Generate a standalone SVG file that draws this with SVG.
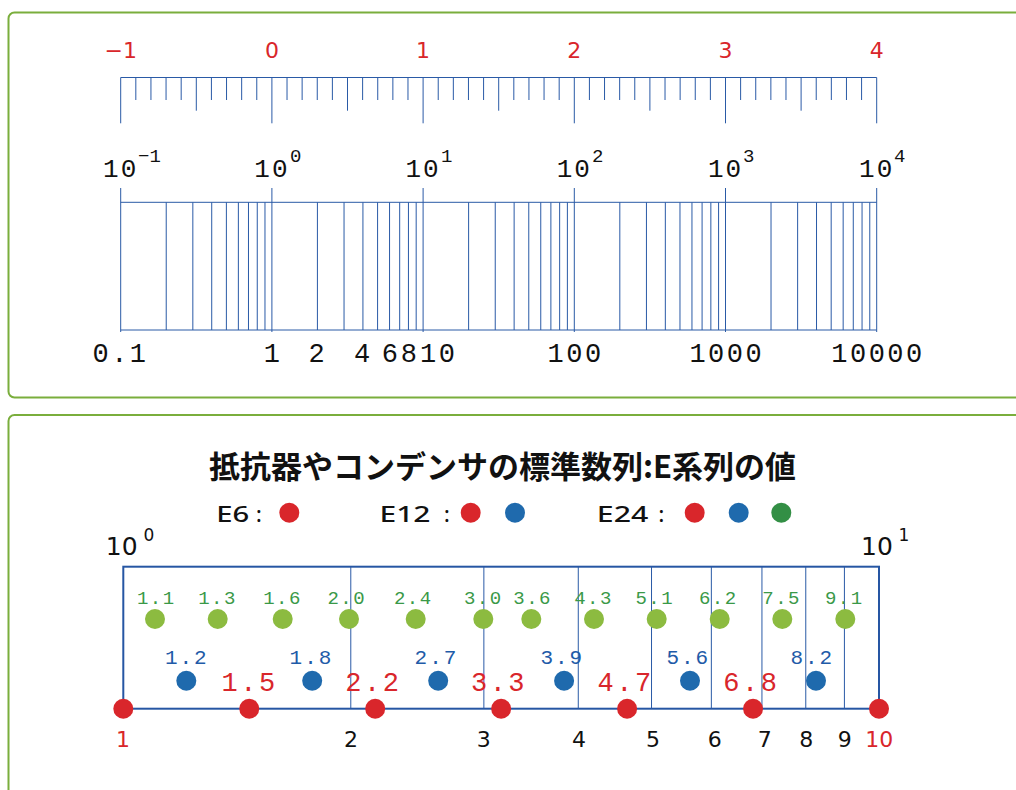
<svg xmlns="http://www.w3.org/2000/svg" width="1016" height="790" viewBox="0 0 1016 790">
<style>
.panel{fill:#fff;stroke:#7aae3c;stroke-width:2}
.bl{stroke:#2a5aa6;stroke-width:1;fill:none}
.red{fill:#d9262b}
.blu{fill:#1f6aad}
.grn{fill:#8cbb40}
.dgrn{fill:#338f45}
.sans{font-family:"DejaVu Sans",sans-serif}
.mono{font-family:"Liberation Mono",monospace}
.rt{font-family:"DejaVu Sans",sans-serif;font-size:22px;fill:#d9262b;text-anchor:middle}
.exp{font-family:"Liberation Mono",monospace;font-size:26px;fill:#111;text-anchor:middle;letter-spacing:2px}
.sup{font-family:"Liberation Mono",monospace;font-size:19px;fill:#111}
.lab{font-family:"Liberation Mono",monospace;font-size:27px;fill:#111;text-anchor:middle;letter-spacing:2.5px}
.gl{font-family:"Liberation Mono",monospace;font-size:19px;fill:#3a9948;text-anchor:middle;letter-spacing:1.5px}
.blt{font-family:"Liberation Mono",monospace;font-size:21px;fill:#1f5ba8;text-anchor:middle;letter-spacing:2px}
.rlt{font-family:"Liberation Mono",monospace;font-size:27px;fill:#d9262b;text-anchor:middle;letter-spacing:2.5px}
.ax{font-family:"DejaVu Sans",sans-serif;font-size:22px;fill:#111;text-anchor:middle}
.leg{font-family:"Noto Sans","Noto Sans CJK JP",sans-serif;font-size:21px;font-weight:500;fill:#111}
</style>
<g id="panel-top">
<rect class="panel" x="8.5" y="12.5" width="1030" height="385" rx="6"/>
<g id="ruler-linear">
<path class="bl" d="M120.7 77.5H876.7"/>
<path class="bl" d="M135.82 77.5V100M150.94 77.5V100M166.06 77.5V100M181.18 77.5V100M211.42 77.5V100M226.54 77.5V100M241.66 77.5V100M256.78 77.5V100M287.02 77.5V100M302.14 77.5V100M317.26 77.5V100M332.38 77.5V100M362.62 77.5V100M377.74 77.5V100M392.86 77.5V100M407.98 77.5V100M438.22 77.5V100M453.34 77.5V100M468.46 77.5V100M483.58 77.5V100M513.82 77.5V100M528.94 77.5V100M544.06 77.5V100M559.18 77.5V100M589.42 77.5V100M604.54 77.5V100M619.66 77.5V100M634.78 77.5V100M665.02 77.5V100M680.14 77.5V100M695.26 77.5V100M710.38 77.5V100M740.62 77.5V100M755.74 77.5V100M770.86 77.5V100M785.98 77.5V100M816.22 77.5V100M831.34 77.5V100M846.46 77.5V100M861.58 77.5V100"/>
<path class="bl" d="M196.3 77.5V110.7M347.5 77.5V110.7M498.7 77.5V110.7M649.9 77.5V110.7M801.1 77.5V110.7"/>
<path class="bl" d="M120.7 77.5V123.3M271.9 77.5V123.3M423.1 77.5V123.3M574.3 77.5V123.3M725.5 77.5V123.3M876.7 77.5V123.3"/>
<text class="rt" x="120.7" y="58">−1</text>
<text class="rt" x="271.9" y="58">0</text>
<text class="rt" x="423.1" y="58">1</text>
<text class="rt" x="574.3" y="58">2</text>
<text class="rt" x="725.5" y="58">3</text>
<text class="rt" x="876.7" y="58">4</text>
</g>
<g id="exponents">
<text class="exp" x="120.7" y="176.7">10</text><text class="sup" x="138" y="162">−1</text>
<text class="exp" x="271.9" y="176.7">10</text><text class="sup" x="290" y="162">0</text>
<text class="exp" x="423.1" y="176.7">10</text><text class="sup" x="441" y="162">1</text>
<text class="exp" x="574.3" y="176.7">10</text><text class="sup" x="592" y="162">2</text>
<text class="exp" x="725.5" y="176.7">10</text><text class="sup" x="743" y="162">3</text>
<text class="exp" x="876.7" y="176.7">10</text><text class="sup" x="894" y="162">4</text>
</g>
<g id="ruler-log">
<path class="bl" d="M120.7 202.3H876.7M120.7 330H876.7"/>
<path class="bl" d="M120.7 188V332M271.9 188V332M423.1 188V332M574.3 188V332M725.5 188V332M876.7 188V332"/>
<path class="bl" d="M166.22 202.3V330M192.84 202.3V330M211.73 202.3V330M226.38 202.3V330M238.36 202.3V330M248.48 202.3V330M257.25 202.3V330M264.98 202.3V330M317.42 202.3V330M344.04 202.3V330M362.93 202.3V330M377.58 202.3V330M389.56 202.3V330M399.68 202.3V330M408.45 202.3V330M416.18 202.3V330M468.62 202.3V330M495.24 202.3V330M514.13 202.3V330M528.78 202.3V330M540.76 202.3V330M550.88 202.3V330M559.65 202.3V330M567.38 202.3V330M619.82 202.3V330M646.44 202.3V330M665.33 202.3V330M679.98 202.3V330M691.96 202.3V330M702.08 202.3V330M710.85 202.3V330M718.58 202.3V330M771.02 202.3V330M797.64 202.3V330M816.53 202.3V330M831.18 202.3V330M843.16 202.3V330M853.28 202.3V330M862.05 202.3V330M869.78 202.3V330"/>
<text class="lab" x="120.5" y="361.7">0.1</text>
<text class="lab" x="273.2" y="361.7">1</text>
<text class="lab" x="317.8" y="361.7">2</text>
<text class="lab" x="363.3" y="361.7">4</text>
<text class="lab" x="391" y="361.7">6</text>
<text class="lab" x="410" y="361.7">8</text>
<text class="lab" x="438.8" y="361.7">10</text>
<text class="lab" x="575.6" y="361.7">100</text>
<text class="lab" x="726.8" y="361.7">1000</text>
<text class="lab" x="878" y="361.7">10000</text>
</g>
</g>
<g id="panel-bottom">
<rect class="panel" x="8.5" y="415" width="1030" height="400" rx="6"/>
<text x="502.5" y="478" style="font-family:'Noto Sans CJK JP',sans-serif;font-size:31px;font-weight:bold;fill:#111;text-anchor:middle">抵抗器やコンデンサの標準数列:E系列の値</text>
<g id="legend">
<text class="leg" x="216.2" y="521.7" textLength="33" lengthAdjust="spacingAndGlyphs">E6</text>
<text class="leg" x="256" y="521.7">:</text>
<circle class="red" cx="289.3" cy="512.7" r="10"/>
<text class="leg" x="379.5" y="521.7" textLength="51" lengthAdjust="spacingAndGlyphs">E12</text>
<text class="leg" x="444" y="521.7">:</text>
<circle class="red" cx="470.7" cy="512.7" r="10"/>
<circle class="blu" cx="515" cy="512.7" r="10"/>
<text class="leg" x="596.8" y="521.7" textLength="51.5" lengthAdjust="spacingAndGlyphs">E24</text>
<text class="leg" x="658.5" y="521.7">:</text>
<circle class="red" cx="694.7" cy="512.7" r="10"/>
<circle class="blu" cx="738.7" cy="512.7" r="10"/>
<circle class="dgrn" cx="781.3" cy="512.7" r="10"/>
</g>
<g id="chart">
<text x="121.7" y="555" class="sans" style="font-size:25px;fill:#111;text-anchor:middle">10</text>
<text x="143.5" y="540.7" class="sans" style="font-size:17px;fill:#111">0</text>
<text x="877" y="555" class="sans" style="font-size:25px;fill:#111;text-anchor:middle">10</text>
<text x="898.5" y="540.7" class="sans" style="font-size:17px;fill:#111">1</text>
<rect x="123.3" y="566.7" width="755.7" height="142" fill="none" stroke="#2656a3" stroke-width="2"/>
<path class="bl" d="M350.79 566.7V708.7M483.86 566.7V708.7M578.28 566.7V708.7M651.52 566.7V708.7M711.35 566.7V708.7M761.95 566.7V708.7M805.77 566.7V708.7M844.42 566.7V708.7"/>
<g id="e24">
<circle class="grn" cx="155" cy="619" r="10"/><circle class="grn" cx="217.7" cy="619" r="10"/><circle class="grn" cx="282.7" cy="619" r="10"/><circle class="grn" cx="349" cy="619" r="10"/><circle class="grn" cx="415.7" cy="619" r="10"/><circle class="grn" cx="483.3" cy="619" r="10"/><circle class="grn" cx="531.3" cy="619" r="10"/><circle class="grn" cx="594" cy="619" r="10"/><circle class="grn" cx="656.7" cy="619" r="10"/><circle class="grn" cx="719.7" cy="619" r="10"/><circle class="grn" cx="782.3" cy="619" r="10"/><circle class="grn" cx="845.3" cy="619" r="10"/>
<text class="gl" x="156.3" y="604">1.1</text>
<text class="gl" x="217.5" y="604">1.3</text>
<text class="gl" x="282.5" y="604">1.6</text>
<text class="gl" x="346.8" y="604">2.0</text>
<text class="gl" x="413.3" y="604">2.4</text>
<text class="gl" x="483.3" y="604">3.0</text>
<text class="gl" x="532.6" y="604">3.6</text>
<text class="gl" x="593.5" y="604">4.3</text>
<text class="gl" x="654.8" y="604">5.1</text>
<text class="gl" x="718.3" y="604">6.2</text>
<text class="gl" x="781.6" y="604">7.5</text>
<text class="gl" x="844.3" y="604">9.1</text>
</g>
<g id="e12">
<circle class="blu" cx="186.3" cy="680.7" r="10"/><circle class="blu" cx="312.2" cy="680.7" r="10"/><circle class="blu" cx="438.2" cy="680.7" r="10"/><circle class="blu" cx="564.1" cy="680.7" r="10"/><circle class="blu" cx="690" cy="680.7" r="10"/><circle class="blu" cx="816" cy="680.7" r="10"/>
<text class="blt" x="186.8" y="664">1.2</text>
<text class="blt" x="311.5" y="664">1.8</text>
<text class="blt" x="436.5" y="664">2.7</text>
<text class="blt" x="562.3" y="664">3.9</text>
<text class="blt" x="688.3" y="664">5.6</text>
<text class="blt" x="812.3" y="664">8.2</text>
</g>
<g id="e6">
<circle class="red" cx="123.3" cy="708.7" r="10"/><circle class="red" cx="249.25" cy="708.7" r="10"/><circle class="red" cx="375.2" cy="708.7" r="10"/><circle class="red" cx="501.15" cy="708.7" r="10"/><circle class="red" cx="627.1" cy="708.7" r="10"/><circle class="red" cx="753.05" cy="708.7" r="10"/><circle class="red" cx="879" cy="708.7" r="10"/>
<text class="rlt" x="249.6" y="690.7">1.5</text>
<text class="rlt" x="373.3" y="690.7">2.2</text>
<text class="rlt" x="499" y="690.7">3.3</text>
<text class="rlt" x="625.6" y="690.7">4.7</text>
<text class="rlt" x="751.3" y="690.7">6.8</text>
</g>
<g id="axis-labels">
<text class="ax" x="123" y="747.3" style="fill:#d9262b">1</text>
<text class="ax" x="351" y="747.3">2</text>
<text class="ax" x="483.7" y="747.3">3</text>
<text class="ax" x="579" y="747.3">4</text>
<text class="ax" x="653" y="747.3">5</text>
<text class="ax" x="714.7" y="747.3">6</text>
<text class="ax" x="764.7" y="747.3">7</text>
<text class="ax" x="806.3" y="747.3">8</text>
<text class="ax" x="844.7" y="747.3">9</text>
<text class="ax" x="879.3" y="747.3" style="fill:#d9262b">10</text>
</g>
</g>
</g>
</svg>
